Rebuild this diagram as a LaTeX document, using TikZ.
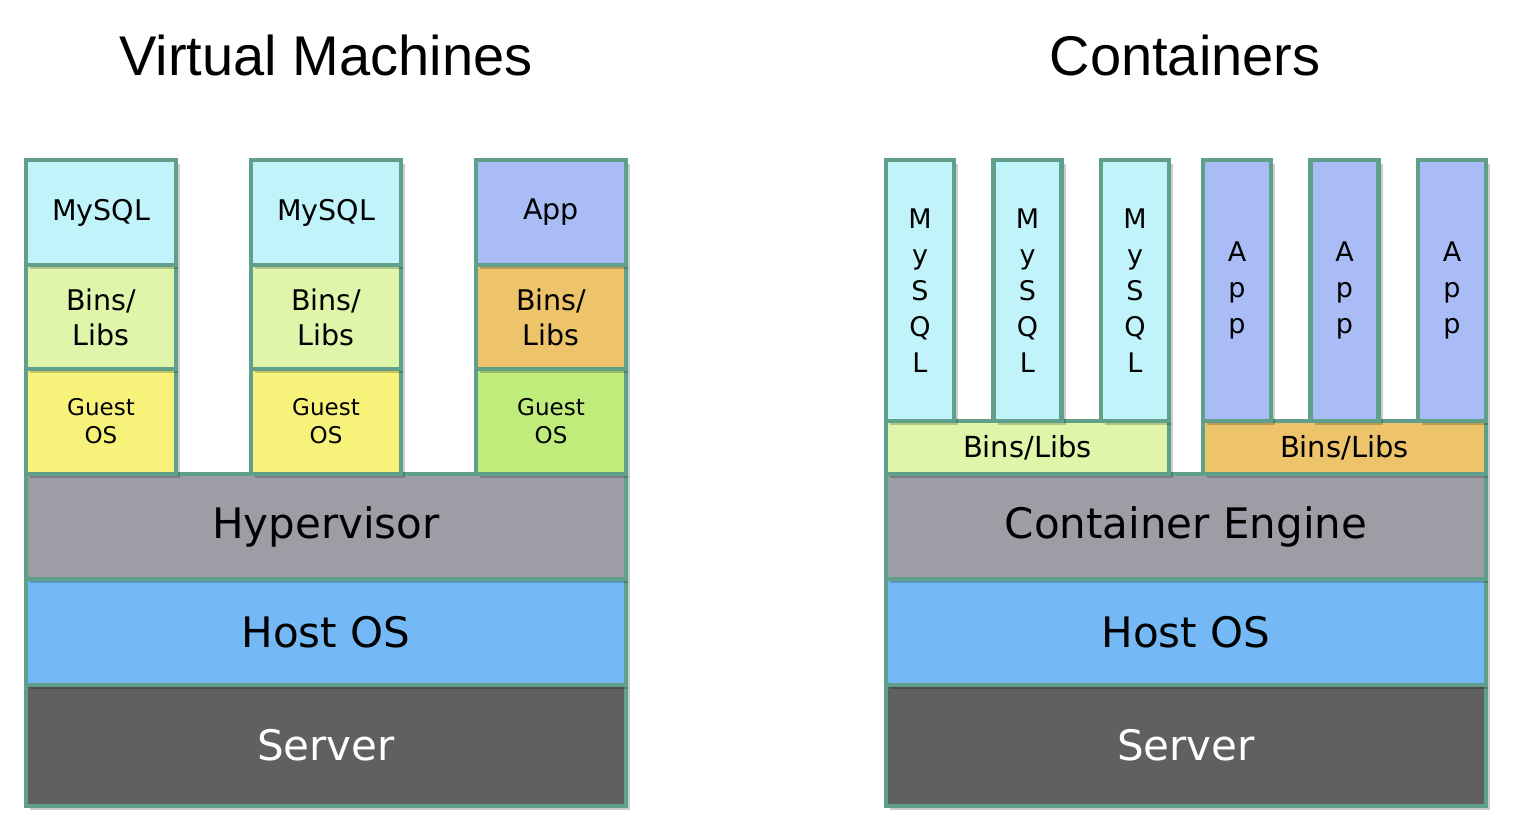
\documentclass[tikz,border=0pt]{standalone}
\usepackage{fontspec}
\setmainfont{DejaVu Sans}
\newfontfamily\titlefont{Liberation Sans}
\usepackage{tikz}
\usetikzlibrary{positioning,shadows}

\definecolor{edgegreen}{RGB}{96,160,138}
\definecolor{mysqlcyan}{RGB}{192,244,250}
\definecolor{binsgreen}{RGB}{222,245,170}
\definecolor{binsorange}{RGB}{238,196,106}
\definecolor{guestyellow}{RGB}{247,243,122}
\definecolor{guestgreen}{RGB}{192,236,124}
\definecolor{appblue}{RGB}{170,188,245}
\definecolor{hypergray}{RGB}{157,157,166}
\definecolor{hostblue}{RGB}{116,185,245}
\definecolor{servergray}{RGB}{96,96,99}

\begin{document}
\begin{tikzpicture}[
    x=1pt, y=-1pt,
    node distance=0pt,
    block/.style={rectangle, draw=edgegreen, line width=4.5pt, outer sep=0pt, inner sep=0pt, align=center,
        drop shadow={shadow xshift=4pt, shadow yshift=-4pt, opacity=0.2, fill=black}},
    layer/.style={block, minimum width=600pt, font=\fontsize{42}{48}\selectfont},
    vmbox/.style={block, minimum width=150pt, minimum height=105pt, font=\fontsize{28.5}{35}\selectfont},
    guestbox/.style={vmbox, font=\fontsize{23}{28}\selectfont},
    column/.style={block, minimum width=68pt, minimum height=261pt, font=\fontsize{27}{36}\selectfont},
    libbar/.style={block, minimum width=283pt, minimum height=53pt, font=\fontsize{29}{34}\selectfont},
    title/.style={font=\titlefont\fontsize{56}{64}\selectfont}
]
\useasboundingbox (0,0) rectangle (1519,840);

% Titles
\node[title] (vmtitle) at (326,55) {Virtual Machines};
\node[title] (cttitle) at (1185,55) {Containers};

% Virtual machines: shared layers
\node[layer, fill=servergray, text=white, minimum height=121pt, anchor=north west] (vmserver) at (26,685) {Server};
\node[layer, fill=hostblue, minimum height=106pt, above=of vmserver] (vmhost) {Host OS};
\node[layer, fill=hypergray, minimum height=105pt, above=of vmhost] (hyper) {Hypervisor};

% Virtual machines: guests
\node[guestbox, fill=guestyellow, above right=0pt and 0pt of hyper.north west] (guestA) {Guest\\OS};
\node[guestbox, fill=guestyellow, right=75pt of guestA] (guestB) {Guest\\OS};
\node[guestbox, fill=guestgreen, right=75pt of guestB] (guestC) {Guest\\OS};

\node[vmbox, fill=binsgreen, minimum height=104pt, above=of guestA] (vmbinsA) {Bins/\\Libs};
\node[vmbox, fill=binsgreen, minimum height=104pt, above=of guestB] (vmbinsB) {Bins/\\Libs};
\node[vmbox, fill=binsorange, minimum height=104pt, above=of guestC] (vmbinsC) {Bins/\\Libs};

\node[vmbox, fill=mysqlcyan, above=of vmbinsA] (vmsqlA) {MySQL};
\node[vmbox, fill=mysqlcyan, above=of vmbinsB] (vmsqlB) {MySQL};
\node[vmbox, fill=appblue, above=of vmbinsC] (vmapp) {App};

% Containers: shared layers
\node[layer, fill=servergray, text=white, minimum height=121pt, anchor=north west] (ctserver) at (886,685) {Server};
\node[layer, fill=hostblue, minimum height=106pt, above=of ctserver] (cthost) {Host OS};
\node[layer, fill=hypergray, minimum height=105pt, above=of cthost] (engine) {Container Engine};

% Containers: libraries
\node[libbar, fill=binsgreen, above right=0pt and 0pt of engine.north west] (ctbinsA) {Bins/Libs};
\node[libbar, fill=binsorange, right=34pt of ctbinsA] (ctbinsB) {Bins/Libs};

% Containers: apps
\node[column, fill=mysqlcyan, above right=0pt and 0pt of ctbinsA.north west] (sqlA) {M\\y\\S\\Q\\L};
\node[column, fill=mysqlcyan, right=39.5pt of sqlA] (sqlB) {M\\y\\S\\Q\\L};
\node[column, fill=mysqlcyan, right=39.5pt of sqlB] (sqlC) {M\\y\\S\\Q\\L};
\node[column, fill=appblue, above right=0pt and 0pt of ctbinsB.north west] (appA) {A\\p\\p};
\node[column, fill=appblue, right=39.5pt of appA] (appB) {A\\p\\p};
\node[column, fill=appblue, right=39.5pt of appB] (appC) {A\\p\\p};

\end{tikzpicture}
\end{document}
